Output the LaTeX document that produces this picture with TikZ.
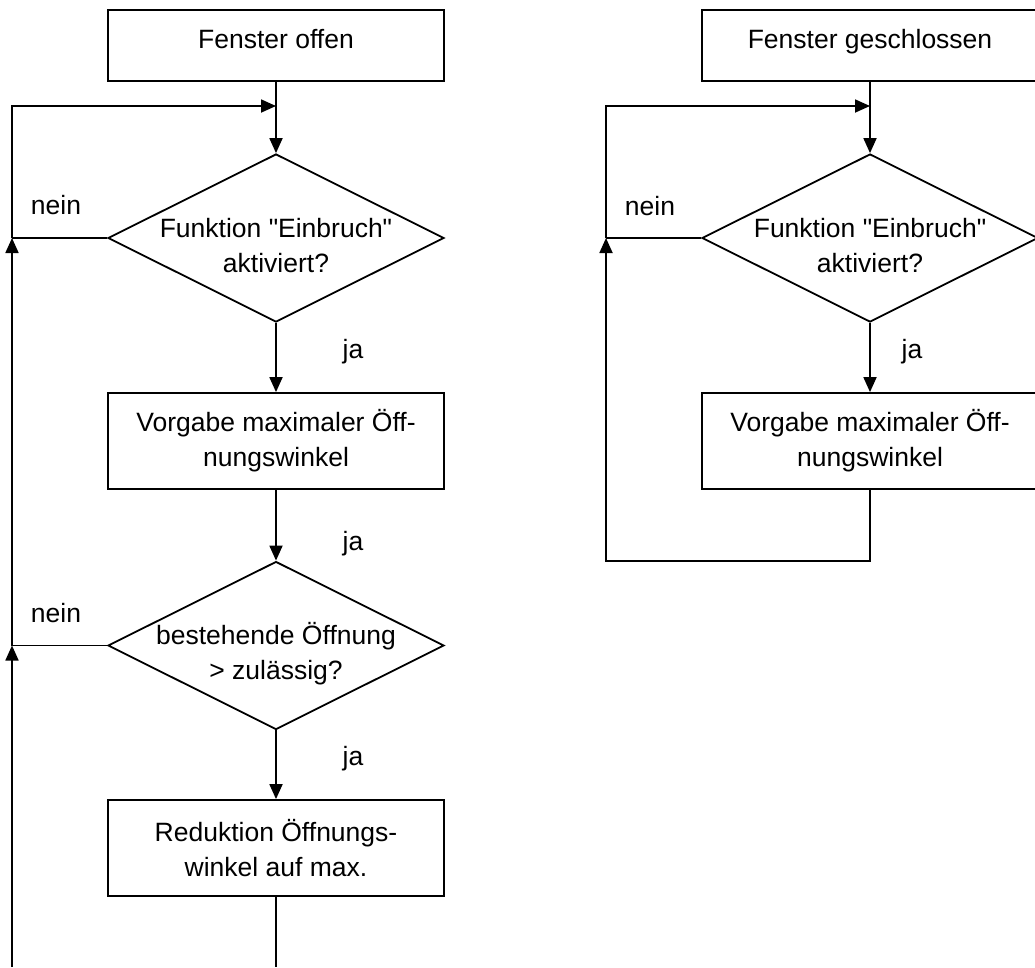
\documentclass[tikz,border=0pt]{standalone}
\usepackage{fontspec}
\setmainfont{Liberation Sans}[Ligatures=TeXOff]
\usetikzlibrary{shapes.geometric,arrows.meta}
\begin{document}
\begin{tikzpicture}[x=1pt,y=-1pt,
  every node/.style={font=\fontsize{26.5}{35}\selectfont},
  proc/.style={draw, line width=1.8pt, minimum width=336pt, inner sep=0pt, align=center},
  single/.style={minimum height=71pt, text height=20pt, text depth=15pt},
  dec/.style={draw, diamond, line width=1.8pt, minimum width=336pt, minimum height=168pt, inner sep=0pt},
  lbl/.style={anchor=base, inner sep=0pt},
  txt/.style={align=center, inner sep=0pt},
  flow/.style={line width=1.8pt, -{Triangle[length=15pt,width=13pt]}},
  conn/.style={line width=1.8pt}]
\useasboundingbox (0,0) rectangle (1035,967);
\clip (0,0) rectangle (1035,967);

% left column
\node[proc, single] (s1) at (276,45.5) {Fenster offen};
\node[dec] (d1) at (276,238) {};
\node[txt] (d1t) at (276,246) {Funktion "Einbruch"\\aktiviert?};
\node[proc, minimum height=96pt] (v1) at (276,441) {Vorgabe maximaler Öff-\\nungswinkel};
\node[dec] (d2) at (276,645.5) {};
\node[txt] (d2t) at (276,654) {bestehende Öffnung\\> zulässig?};
\node[proc, minimum height=96pt] (r1) at (276,848) {Reduktion Öffnungs-\\winkel auf max.};

\node[lbl] (n1) at (56,214) {nein};
\node[lbl] (n2) at (56,622) {nein};
\node[lbl] (j1) at (353,358) {ja};
\node[lbl] (j2) at (353,550) {ja};
\node[lbl] (j3) at (353,765) {ja};

\coordinate (lt) at (12,106);
\coordinate (jt) at (276,106);
\coordinate (lm1) at (12,238);
\coordinate (lm2) at (12,645.5);
\coordinate (lb) at (12,967);
\coordinate (rb) at (276,967);

\draw[flow] (s1.south) -- (d1.north);
\draw[flow] (d1.south) -- (v1.north);
\draw[flow] (v1.south) -- (d2.north);
\draw[flow] (d2.south) -- (r1.north);
\draw[conn] (r1.south) -- (rb);
\draw[conn] (d1.west) -- (lm1);
\draw[conn] (d2.west) -- (lm2);
\draw[flow] (lb) -- (lm2);
\draw[flow] (lm2) -- (lm1);
\draw[flow] (lm1) -- (lt) -- (jt);

% right column
\node[proc, single] (s2) at (870,45.5) {Fenster geschlossen};
\node[dec] (d3) at (870,238) {};
\node[txt] (d3t) at (870,246) {Funktion "Einbruch"\\aktiviert?};
\node[proc, minimum height=96pt] (v2) at (870,441) {Vorgabe maximaler Öff-\\nungswinkel};

\node[lbl] (n3) at (650,215) {nein};
\node[lbl] (j4) at (912,358) {ja};

\coordinate (rlt) at (606,106);
\coordinate (rjt) at (870,106);
\coordinate (rl1) at (606,238);
\coordinate (rlb) at (606,561);
\coordinate (rvb) at (870,561);

\draw[flow] (s2.south) -- (d3.north);
\draw[flow] (d3.south) -- (v2.north);
\draw[conn] (d3.west) -- (rl1);
\draw[flow] (rl1) -- (rlt) -- (rjt);
\draw[flow] (v2.south) -- (rvb) -- (rlb) -- (rl1);
\end{tikzpicture}
\end{document}
